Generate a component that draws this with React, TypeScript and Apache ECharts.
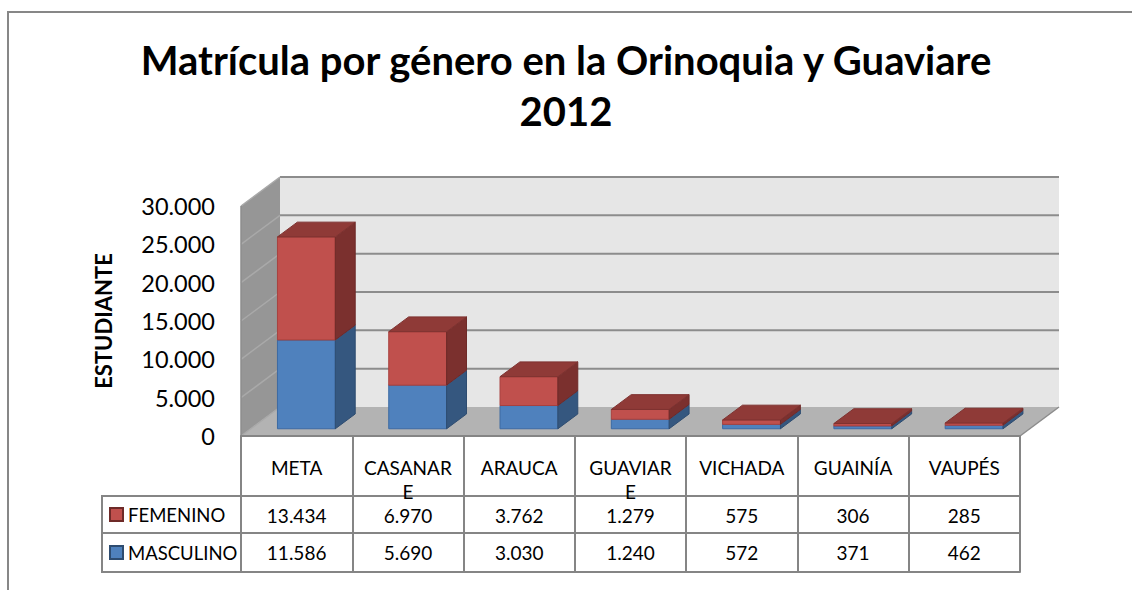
import React, { useEffect, useRef } from 'react';
import * as echarts from 'echarts';

const categories = ['META', 'CASANARE', 'ARAUCA', 'GUAVIARE', 'VICHADA', 'GUAINÍA', 'VAUPÉS'];
const femenino = [13434, 6970, 3762, 1279, 575, 306, 285];
const masculino = [11586, 5690, 3030, 1240, 572, 371, 462];
const yTicks = [0, 5000, 10000, 15000, 20000, 25000, 30000];
const titleLines = ['Matrícula por género en la Orinoquia y Guaviare', '2012'];
const yAxisTitle = 'ESTUDIANTE';
const seriesNames = ['FEMENINO', 'MASCULINO'];

const DX = 39;
const DY = -29;
const Z0 = 0.25;
const Z1 = 0.76;
const BAR_FRAC = 0.52;
const FONT = 'Lato';
const LINE = '#858585';

function fmt(v: number | string): string {
  return String(v).replace(/\B(?=(\d{3})+(?!\d))/g, '.');
}

function wrapName(v: string): string {
  return v.length > 7 ? v.slice(0, 7) + '\n' + v.slice(7) : v;
}

type Colors = { front: string; frontStroke: string; side: string; sideStroke: string; top: string; topStroke: string };

const blue: Colors = { front: '#4f81bd', frontStroke: '#3c6aa3', side: '#35577f', sideStroke: '#2e4c70', top: '#4674ab', topStroke: '#3c6aa3' };
const red: Colors = { front: '#c0504d', frontStroke: '#a8413e', side: '#7b302e', sideStroke: '#6e2a28', top: '#8f3a37', topStroke: '#7e3230' };

function barRender(c: Colors) {
  return (params: any, api: any) => {
    const ci = api.value(0);
    const base = api.value(1);
    const top = api.value(2);
    const pb = api.coord([ci, base]);
    const pt = api.coord([ci, top]);
    const band = api.size([1, 0])[0];
    const w = band * BAR_FRAC;
    const xl = pb[0] - w / 2 + Z0 * DX;
    const xr = xl + w;
    const yb = pb[1] + Z0 * DY;
    const yt = pt[1] + Z0 * DY;
    const bx = (Z1 - Z0) * DX;
    const by = (Z1 - Z0) * DY;
    return {
      type: 'group',
      children: [
        { type: 'polygon', shape: { points: [[xl, yb], [xr, yb], [xr, yt], [xl, yt]] }, style: { fill: c.front, stroke: c.frontStroke, lineWidth: 1 } },
        { type: 'polygon', shape: { points: [[xr, yb], [xr + bx, yb + by], [xr + bx, yt + by], [xr, yt]] }, style: { fill: c.side, stroke: c.sideStroke, lineWidth: 1 } },
        { type: 'polygon', shape: { points: [[xl, yt], [xr, yt], [xr + bx, yt + by], [xl + bx, yt + by]] }, style: { fill: c.top, stroke: c.topStroke, lineWidth: 1 } },
      ],
    };
  };
}

function wallRender(params: any, api: any) {
  const cs = params.coordSys;
  const x0 = cs.x;
  const x1 = cs.x + cs.width;
  const yv = (v: number) => api.coord([0, v])[1];
  const yMin = yv(yTicks[0]);
  const yMax = yv(yTicks[yTicks.length - 1]);
  const children: any[] = [
    { type: 'polygon', shape: { points: [[x0 + DX, yMax + DY], [x1 + DX, yMax + DY], [x1 + DX, yMin + DY], [x0 + DX, yMin + DY]] }, style: { fill: '#e6e6e6' } },
    { type: 'polygon', shape: { points: [[x0, yMin], [x0 + DX, yMin + DY], [x0 + DX, yMax + DY], [x0, yMax]] }, style: { fill: '#969696' } },
    { type: 'polygon', shape: { points: [[x0, yMin], [x1, yMin], [x1 + DX, yMin + DY], [x0 + DX, yMin + DY]] }, style: { fill: '#b3b3b3' } },
  ];
  yTicks.forEach((t) => {
    const y = yv(t);
    if (t !== yTicks[0]) {
      children.push({ type: 'line', shape: { x1: x0 + DX, y1: y + DY, x2: x1 + DX, y2: y + DY }, style: { stroke: '#8c8c8c', lineWidth: 2 } });
    }
    children.push({ type: 'line', shape: { x1: x0, y1: y, x2: x0 + DX, y2: y + DY }, style: { stroke: '#a9a9a9', lineWidth: 1.5 } });
  });
  children.push({ type: 'line', shape: { x1: x0, y1: yMin, x2: x0, y2: yMax }, style: { stroke: '#8c8c8c', lineWidth: 1.5 } });
  children.push({ type: 'line', shape: { x1: x1, y1: yMin, x2: x1 + DX, y2: yMin + DY }, style: { stroke: '#8c8c8c', lineWidth: 1.5 } });
  return { type: 'group', children };
}

export default function App() {
  const ref = useRef<HTMLDivElement>(null);
  useEffect(() => {
    if (!ref.current) return;
    const chart = echarts.init(ref.current, undefined, { renderer: 'svg' });
    const labelStyle = { fontFamily: FONT, fontSize: 19, color: '#000' };
    const option: any = {
      animation: false,
      backgroundColor: '#ffffff',
      title: {
        text: titleLines.join('\n'),
        left: 'center',
        top: 29,
        padding: [5, 0, 5, 14],
        textStyle: { fontFamily: FONT, fontWeight: 'bold', fontSize: 40, lineHeight: 51, color: '#000' },
      },
      legend: {
        orient: 'vertical',
        left: 109,
        top: 505,
        padding: 0,
        itemWidth: 13,
        itemHeight: 13,
        itemGap: 19,
        icon: 'rect',
        selectedMode: false,
        data: seriesNames,
        textStyle: { fontFamily: FONT, fontSize: 18.5, color: '#000' },
      },
      grid: { left: 241, top: 206, width: 779, height: 230 },
      xAxis: [
        {
          type: 'category', data: categories, position: 'bottom', offset: 0, z: 5,
          axisLine: { show: true, lineStyle: { color: LINE, width: 2 } },
          axisTick: { show: true, interval: 0, length: 136, lineStyle: { color: LINE, width: 2 } },
          axisLabel: { interval: 0, margin: 19, lineHeight: 24, formatter: (v: string) => wrapName(v), ...labelStyle },
        },
        {
          type: 'category', data: categories, position: 'bottom', offset: 60, z: 5,
          axisLine: { show: true, lineStyle: { color: LINE, width: 2 } },
          axisTick: { show: false },
          axisLabel: { interval: 0, margin: 10, lineHeight: 18, formatter: (_v: string, i: number) => fmt(femenino[i]), ...labelStyle },
        },
        {
          type: 'category', data: categories, position: 'bottom', offset: 97, z: 5,
          axisLine: { show: true, lineStyle: { color: LINE, width: 2 } },
          axisTick: { show: false },
          axisLabel: { interval: 0, margin: 10, lineHeight: 18, formatter: (_v: string, i: number) => fmt(masculino[i]), ...labelStyle },
        },
        {
          type: 'category', data: categories, position: 'bottom', offset: 136, z: 5,
          axisLine: { show: true, lineStyle: { color: LINE, width: 2 } },
          axisTick: { show: false },
          axisLabel: { show: false },
        },
      ],
      yAxis: {
        type: 'value', min: 0, max: 30000, interval: 5000,
        axisLine: { show: false }, axisTick: { show: false }, splitLine: { show: false },
        axisLabel: { formatter: (v: number) => fmt(v), fontFamily: FONT, fontSize: 23.5, color: '#000', margin: 26, padding: [4, 0, 0, 0] },
        name: yAxisTitle, nameLocation: 'middle', nameRotate: 90, nameGap: 127,
        nameTextStyle: { fontFamily: FONT, fontWeight: 'bold', fontSize: 22, color: '#000' },
      },
      graphic: [
        { type: 'rect', silent: true, shape: { x: 8, y: 12, width: 1300, height: 800 }, style: { fill: 'none', stroke: '#878787', lineWidth: 2 } },
        { type: 'rect', silent: true, shape: { x: 102, y: 496, width: 139, height: 76 }, style: { fill: 'none', stroke: LINE, lineWidth: 2 } },
        { type: 'line', silent: true, shape: { x1: 102, y1: 533, x2: 241, y2: 533 }, style: { stroke: LINE, lineWidth: 2 } },
      ],
      series: [
        {
          type: 'custom', name: 'walls', z: 1, silent: true,
          data: [[0, 0]], encode: { x: 0, y: 1 },
          renderItem: wallRender,
        },
        {
          type: 'custom', name: seriesNames[1], z: 2,
          itemStyle: { color: blue.front, borderColor: blue.sideStroke, borderWidth: 1 },
          data: categories.map((_c, i) => [i, 0, masculino[i]]),
          encode: { x: 0, y: [1, 2] },
          renderItem: barRender(blue),
        },
        {
          type: 'custom', name: seriesNames[0], z: 2,
          itemStyle: { color: red.front, borderColor: red.sideStroke, borderWidth: 1 },
          data: categories.map((_c, i) => [i, masculino[i], masculino[i] + femenino[i]]),
          encode: { x: 0, y: [1, 2] },
          renderItem: barRender(red),
        },
      ],
    };
    chart.setOption(option);
    return () => chart.dispose();
  }, []);
  return <div ref={ref} style={{ position: 'absolute', left: 0, top: 0, width: 1132, height: 590 }} />;
}
